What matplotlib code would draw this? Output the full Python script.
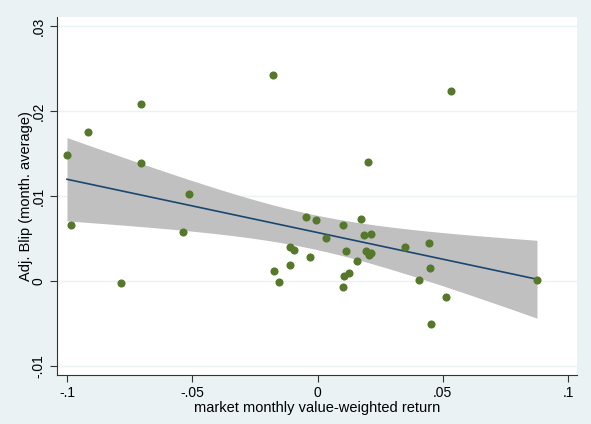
import numpy as np
import matplotlib
matplotlib.use("Agg")
import matplotlib.pyplot as plt

# market monthly value-weighted return vs adjusted blip (month average)
mkt_ret = [-0.1000, -0.0984, -0.0916, -0.0784, -0.0705, -0.0705, -0.0537, -0.0513,
           -0.0178, -0.0174, -0.0154, -0.0110, -0.0094, -0.0110, -0.0046, -0.0030,
           -0.0006, 0.0034, 0.0102, 0.0114, 0.0106, 0.0126, 0.0102, 0.0174,
           0.0158, 0.0186, 0.0212, 0.0194, 0.0202, 0.0206, 0.0214, 0.0349,
           0.0445, 0.0405, 0.0449, 0.0453, 0.0513, 0.0533, 0.0876]
adj_blip = [0.0148, 0.0066, 0.0175, -0.0002, 0.0208, 0.0139, 0.0058, 0.0102,
            0.0242, 0.0012, -0.0001, 0.0040, 0.0037, 0.0019, 0.0075, 0.0028,
            0.0072, 0.0051, 0.0066, 0.0035, 0.0006, 0.0009, -0.0007, 0.0073,
            0.0024, 0.0054, 0.0055, 0.0035, 0.0140, 0.0030, 0.0033, 0.0040,
            0.0045, 0.0001, 0.0015, -0.0051, -0.0019, 0.0224, 0.0001]

xticks = [-0.1, -0.05, 0, 0.05, 0.1]
xticklabels = ["-.1", "-.05", "0", ".05", ".1"]
yticks = [-0.01, 0, 0.01, 0.02, 0.03]
yticklabels = ["-.01", "0", ".01", ".02", ".03"]

plt.rcParams['font.family'] = ['Liberation Sans', 'DejaVu Sans']

x = np.array(mkt_ret)
y = np.array(adj_blip)

# linear fit with 95% CI of the mean (like Stata lfitci)
n = len(x)
b, a = np.polyfit(x, y, 1)
resid = y - (a + b * x)
s = np.sqrt(np.sum(resid ** 2) / (n - 2))
xg = np.linspace(x.min(), x.max(), 100)
yg = a + b * xg
se = s * np.sqrt(1.0 / n + (xg - x.mean()) ** 2 / np.sum((x - x.mean()) ** 2))
tval = 2.026
lo = yg - tval * se
hi = yg + tval * se

bg = '#EAF2F3'
fig = plt.figure(figsize=(5.91, 4.24), dpi=100, facecolor=bg)
ax = fig.add_axes([0.0964, 0.1156, 0.88, 0.8444])
ax.set_facecolor('white')

ax.fill_between(xg, lo, hi, color='#C0C0C0', linewidth=0, zorder=2)
ax.plot(xg, yg, color='#1A476F', linewidth=1.2, zorder=3)
ax.scatter(x, y, s=34, color='#55782A', linewidths=0, zorder=4)

ax.set_xlim(-0.104, 0.1036)
ax.set_ylim(-0.01106, 0.03106)
ax.set_xticks(xticks)
ax.set_xticklabels(xticklabels)
ax.set_yticks(yticks)
ax.set_yticklabels(yticklabels, rotation=90, va='center')
ax.tick_params(axis='both', direction='out', length=5, width=0.8,
               color='#333333', labelsize=10, labelcolor='black', pad=3)
for yt in yticks:
    ax.axhline(yt, color='#EAF2F3', linewidth=1.0, zorder=1)

ax.spines['top'].set_visible(False)
ax.spines['right'].set_visible(False)
ax.spines['left'].set_color('#333333')
ax.spines['bottom'].set_color('#333333')
ax.spines['left'].set_linewidth(0.8)
ax.spines['bottom'].set_linewidth(0.8)

ax.set_xlabel('market monthly value-weighted return', fontsize=10.5, labelpad=1)
ax.set_ylabel('Adj. Blip (month. average)', fontsize=10.5, labelpad=-1)

fig.savefig('out.png', dpi=100, facecolor=bg)
